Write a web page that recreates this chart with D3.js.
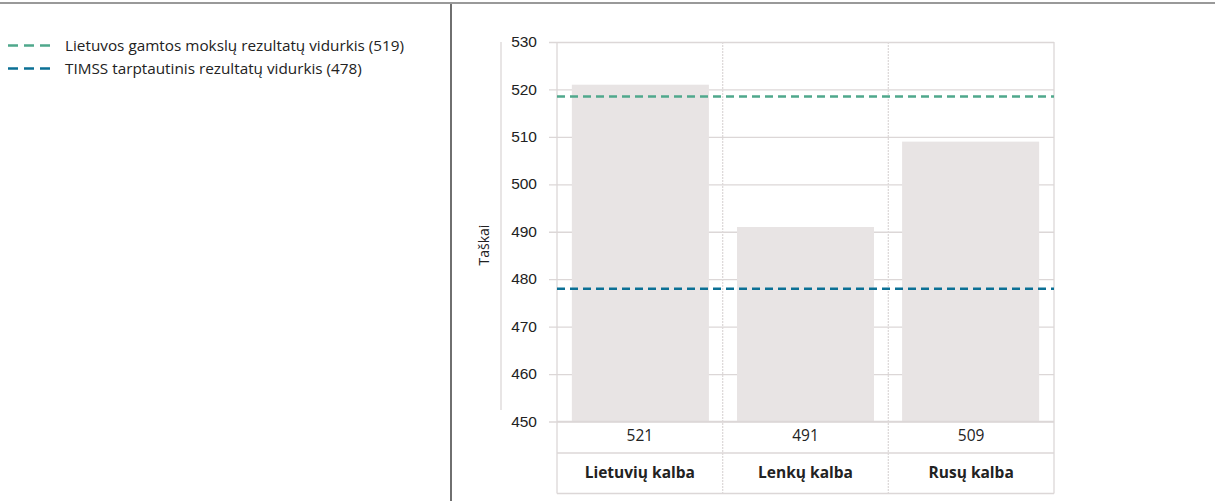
<!DOCTYPE html>
<html><head><meta charset="utf-8">
<script src="https://cdn.jsdelivr.net/npm/d3@7"></script>
<style>body{margin:0;background:#fff;} svg{display:block;font-family:"Open Sans",sans-serif;}</style>
</head><body>
<svg id="c" width="1215" height="501"></svg>
<script>
const categories = ["Lietuvių kalba", "Lenkų kalba", "Rusų kalba"];
const values = [521, 491, 509];
const valueLabels = ["521", "491", "509"];
const refNames = ["Lietuvos gamtos mokslų rezultatų vidurkis (519)", "TIMSS tarptautinis rezultatų vidurkis (478)"];
const refValues = [518.5, 478];
const refColors = ["#4fa88c", "#0b7095"];
const yTicks = [450, 460, 470, 480, 490, 500, 510, 520, 530];
const yLabel = "Taškai";

const svg = d3.select("#c");
const grid = "#dcd7d7";
// frame lines
svg.append("line").attr("x1",0).attr("x2",1215).attr("y1",3).attr("y2",3).attr("stroke","#777").attr("stroke-width",1.5);
svg.append("line").attr("x1",451).attr("x2",451).attr("y1",4).attr("y2",501).attr("stroke","#222").attr("stroke-width",1.3);

const L=557, R=1054, T=42, B=421.5;
const rowY = [B, 453, 493.5];
const x = d3.scaleBand().domain(categories).range([L,R]).paddingInner(0.17).paddingOuter(0.09);
const xc = d3.scaleBand().domain(categories).range([L,R]);
const y = d3.scaleLinear().domain([450,530]).range([B,T]);

// y axis line
svg.append("line").attr("x1",501).attr("x2",501).attr("y1",T).attr("y2",410).attr("stroke",grid).attr("stroke-width",1.3);

// gridlines + ticks
const ya = d3.axisLeft(y).tickValues(yTicks).tickSize(R-549).tickPadding(12);
const g = svg.append("g").attr("transform",`translate(${R},0)`).call(ya);
g.select(".domain").remove();
g.selectAll(".tick line").attr("stroke",grid).attr("stroke-width",1.3);
g.selectAll(".tick text").attr("font-size",15.5).attr("fill","#222").attr("dy","0.3em");

// bars
svg.append("g").selectAll("rect").data(values).join("rect")
  .attr("x",(d,i)=>x(categories[i])).attr("width",x.bandwidth())
  .attr("y",d=>y(d)).attr("height",d=>B-y(d)).attr("fill","#e8e4e4");

// plot frame
svg.append("line").attr("x1",L).attr("x2",L).attr("y1",T).attr("y2",rowY[2]).attr("stroke",grid).attr("stroke-width",1.3);
svg.append("line").attr("x1",R).attr("x2",R).attr("y1",T).attr("y2",rowY[2]).attr("stroke",grid).attr("stroke-width",1.3);
// dividers
svg.append("g").selectAll("line").data(categories.slice(1)).join("line")
  .attr("x1",d=>xc(d)).attr("x2",d=>xc(d)).attr("y1",T).attr("y2",rowY[2])
  .attr("stroke","#dedada").attr("stroke-width",1.3).attr("stroke-dasharray","2,1");
// table rows
rowY.forEach(yy=>{
  svg.append("line").attr("x1",L).attr("x2",R).attr("y1",yy).attr("y2",yy).attr("stroke",grid).attr("stroke-width",1.3);
});
svg.append("g").selectAll("text").data(valueLabels).join("text")
  .attr("x",(d,i)=>xc(categories[i])+xc.bandwidth()/2).attr("y",(rowY[0]+rowY[1])/2 - 1.5).attr("text-anchor","middle")
  .attr("dy","0.35em").attr("font-size",15.5).attr("fill","#222").text(d=>d);
svg.append("g").selectAll("text").data(categories).join("text")
  .attr("x",d=>xc(d)+xc.bandwidth()/2).attr("y",(rowY[1]+rowY[2])/2 - 1).attr("text-anchor","middle")
  .attr("dy","0.35em").attr("font-size",15.5).attr("font-weight","bold").attr("fill","#222").text(d=>d);

// reference lines
svg.append("g").selectAll("line").data(refValues).join("line")
  .attr("x1",L).attr("x2",R).attr("y1",d=>y(d)).attr("y2",d=>y(d))
  .attr("stroke",(d,i)=>refColors[i]).attr("stroke-width",2.6).attr("stroke-dasharray","8,5");

// y label
svg.append("text").attr("transform","translate(489,245) rotate(-90)").attr("text-anchor","middle")
  .attr("font-size",14).attr("fill","#222").text(yLabel);

// legend
const lg = svg.append("g").selectAll("g").data(refNames).join("g")
  .attr("transform",(d,i)=>`translate(0,${45.5+i*23})`);
lg.append("line").attr("x1",8).attr("x2",50).attr("y1",0).attr("y2",0)
  .attr("stroke",(d,i)=>refColors[i]).attr("stroke-width",2.6).attr("stroke-dasharray","10,6");
lg.append("text").attr("x",65).attr("y",0).attr("dy","0.35em")
  .attr("font-size",15.3).attr("fill","#222").text(d=>d);
</script>
</body></html>
